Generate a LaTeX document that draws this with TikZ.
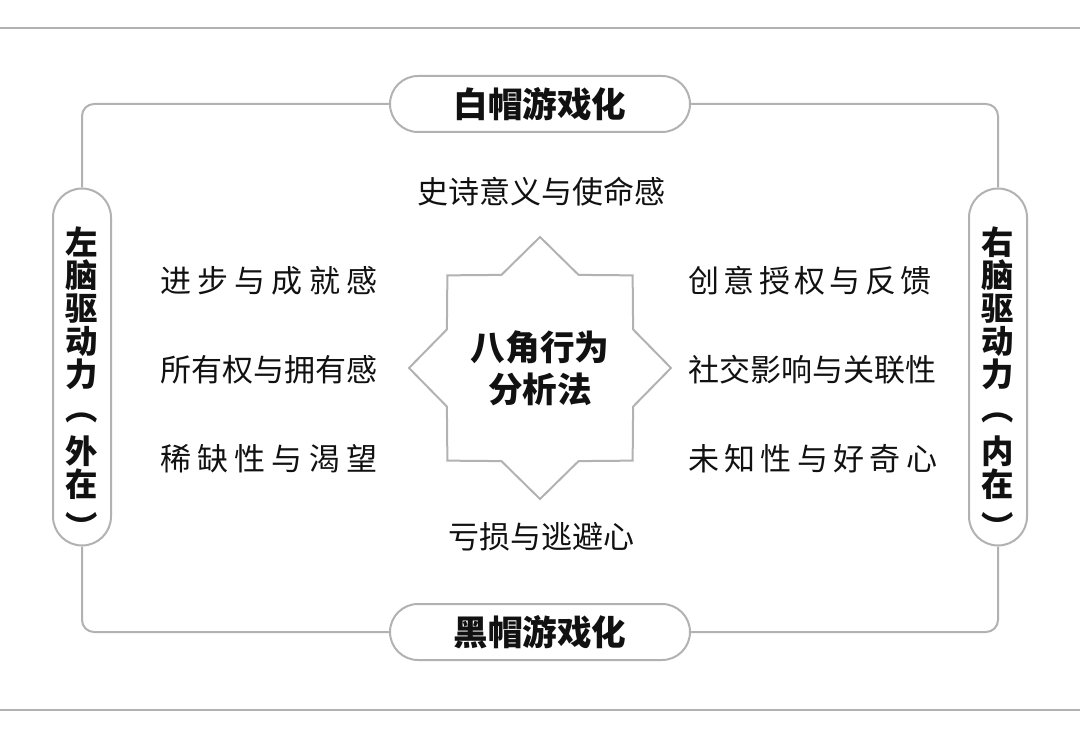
\documentclass[tikz,border=0pt]{standalone}
\usepackage{fontspec}
\setmainfont{Noto Sans CJK SC}
\usetikzlibrary{positioning,shapes.geometric}
\definecolor{framegray}{RGB}{178,178,178}
\definecolor{inkblack}{RGB}{17,17,17}
\tikzset{
  pillbox/.style={draw=framegray,fill=white,line width=1pt,rounded corners=14pt,
    minimum width=150pt,minimum height=28pt,inner sep=0pt,text=inkblack,
    font=\fontsize{17.3}{20}\selectfont\bfseries},
  sidebox/.style={draw=framegray,fill=white,line width=1pt,rounded corners=14.5pt,
    minimum width=29pt,minimum height=178.5pt,inner sep=0pt,text=inkblack},
  sidetext/.style={inner sep=0pt,align=center,text=inkblack,
    font=\fontsize{16.2}{16.6}\selectfont\bfseries},
  itemtext/.style={inner sep=0pt,text=inkblack,font=\fontsize{15.5}{18}\selectfont},
  link/.style={draw=framegray,line width=1pt,rounded corners=6pt},
  rule/.style={draw=framegray,line width=1pt},
}
\begin{document}
\begin{tikzpicture}[x=0.5pt,y=-0.5pt]
\useasboundingbox (0,0) rectangle (1080,737);
% page rules
\draw[rule] (0,28) -- (1080,28);
\draw[rule] (0,710) -- (1080,710);
% four pills
\node[pillbox] (whitehat) at (540,104) {白帽游戏化};
\node[pillbox] (blackhat) at (540,632) {黑帽游戏化};
\node[sidebox] (leftbrain) at (82,367) {};
\node[sidebox] (rightbrain) at (998,367) {};
\node[sidetext] (lefttitle) at (82,383) {左\\脑\\驱\\动\\力\\︵\\[5pt]外\\在\\[5pt]︶};
\node[sidetext] (righttitle) at (998,383) {右\\脑\\驱\\动\\力\\︵\\[5pt]内\\在\\[5pt]︶};
% frame between the pills
\draw[link] (whitehat.west) -| (leftbrain.north);
\draw[link] (leftbrain.south) |- (blackhat.west);
\draw[link] (blackhat.east) -| (rightbrain.south);
\draw[link] (rightbrain.north) |- (whitehat.east);
% octagram in the middle
\node[star,star points=8,star point ratio=1.3,minimum size=131pt,inner sep=0pt,
  draw=framegray,line width=1pt,align=center,text=inkblack,
  font=\fontsize{17.3}{21}\selectfont\bfseries] (core) at (540,368) {八角行为\\分析法};
\node[itemtext] (epic) at (541,192) {史诗意义与使命感};
\node[itemtext] (loss) at (541,537) {亏损与逃避心};
% left brain drives
\node[itemtext,anchor=west,font=\fontsize{15.5}{18}\selectfont\addfontfeature{LetterSpace=20}] (accomp) at (160,281) {进步与成就感};
\node[itemtext,anchor=west] (owner) at (160,370) {所有权与拥有感};
\node[itemtext,anchor=west,font=\fontsize{15.5}{18}\selectfont\addfontfeature{LetterSpace=20}] (scarce) at (160,459) {稀缺性与渴望};
% right brain drives
\node[itemtext,anchor=west,font=\fontsize{15.5}{18}\selectfont\addfontfeature{LetterSpace=14}] (create) at (688,281) {创意授权与反馈};
\node[itemtext,anchor=west] (social) at (688,370) {社交影响与关联性};
\node[itemtext,anchor=west,font=\fontsize{15.5}{18}\selectfont\addfontfeature{LetterSpace=17}] (unknown) at (688,459) {未知性与好奇心};
\end{tikzpicture}
\end{document}
